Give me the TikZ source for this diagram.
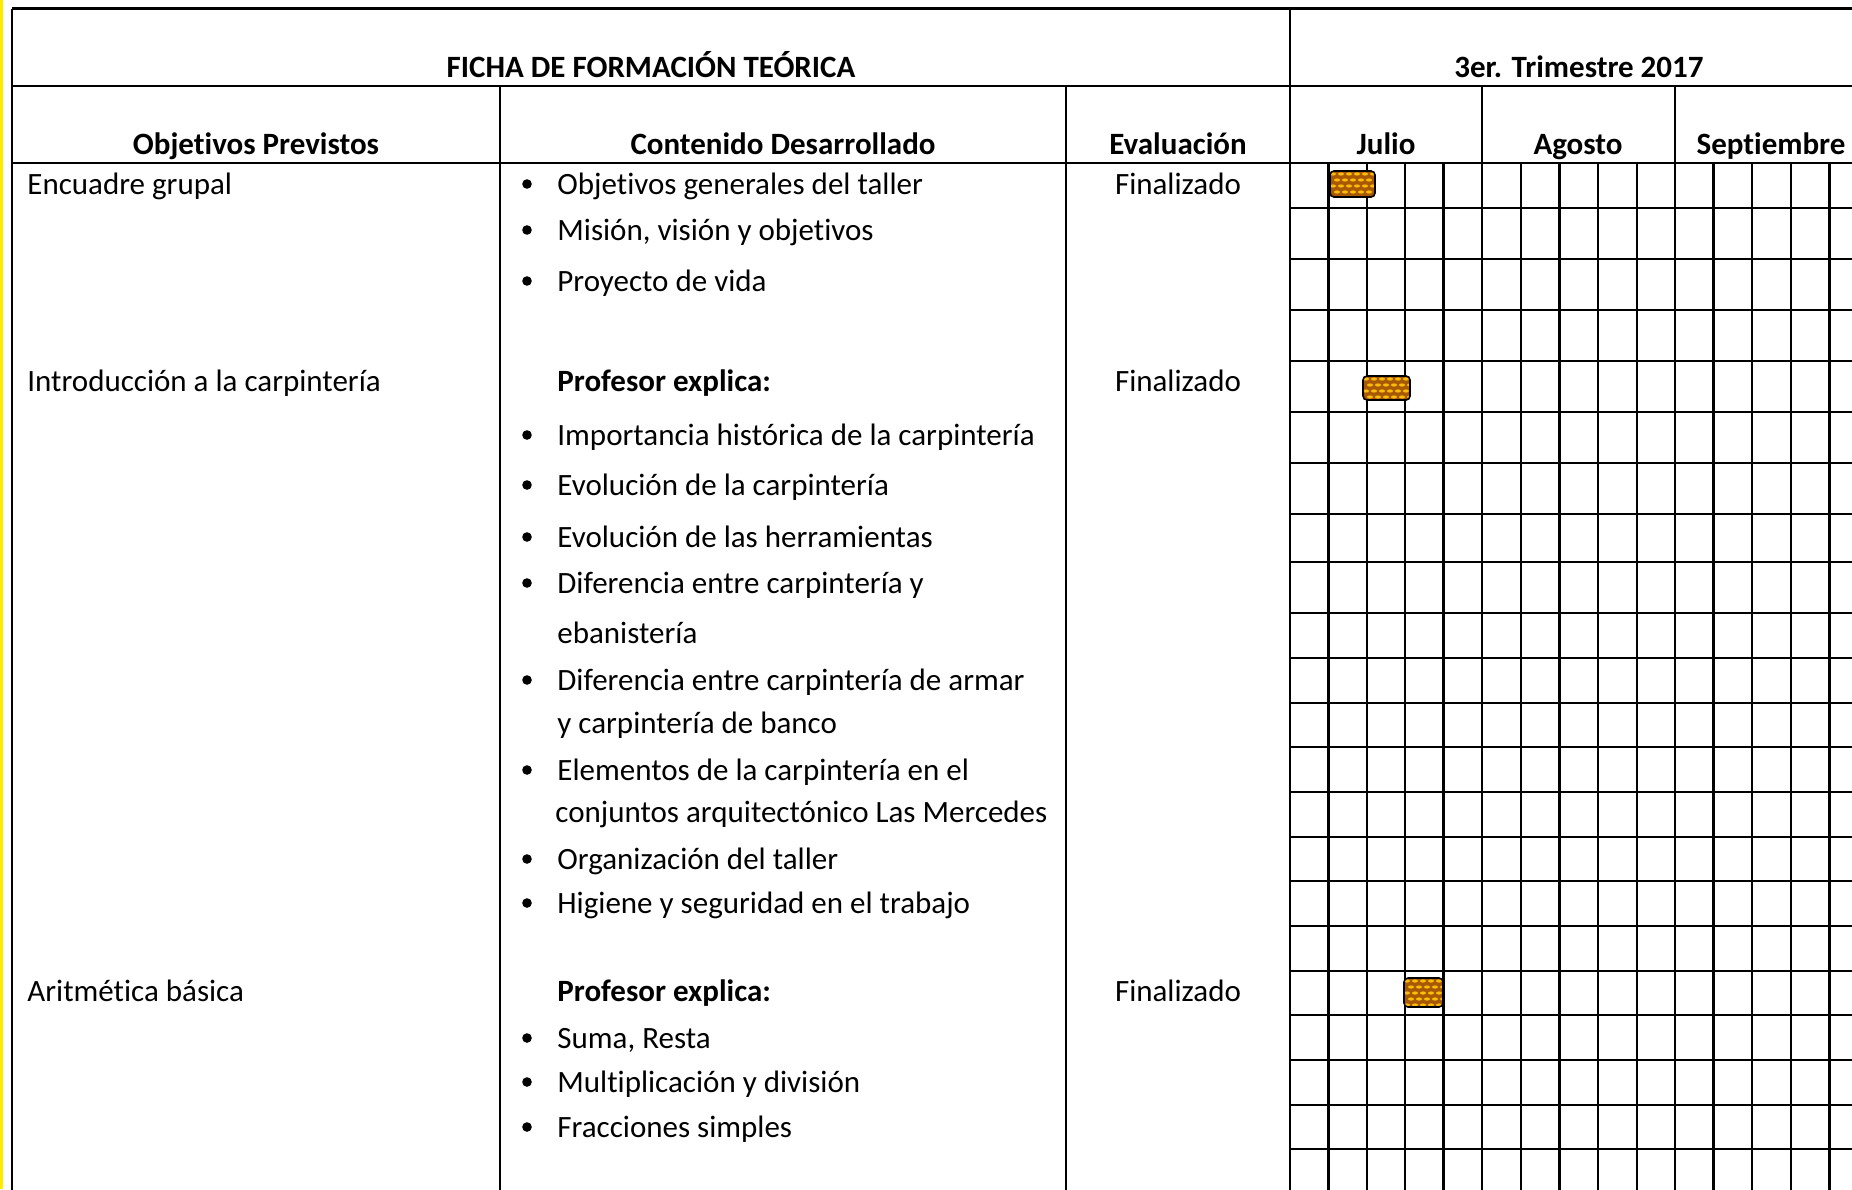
\documentclass[tikz,border=0pt]{standalone}
\usepackage{fontspec}
\setmainfont{Carlito}[Ligatures={NoCommon}]
\definecolor{barbrown}{RGB}{168,88,0}
\definecolor{baryellow}{RGB}{250,190,10}
\definecolor{edgeyellow}{RGB}{255,235,0}
\tikzset{
  grid/.style={line width=1.15pt, black},
  txt/.style={anchor=base west, inner sep=0pt, font=\fontsize{15.5}{18}\selectfont},
  ctr/.style={anchor=base, inner sep=0pt, font=\fontsize{15.5}{18}\selectfont},
  hd/.style={anchor=base, inner sep=0pt, font=\fontsize{15.5}{18}\selectfont\bfseries},
  bhd/.style={anchor=base west, inner sep=0pt, font=\fontsize{15.5}{18}\selectfont\bfseries},
  bul/.style={circle, fill=black, inner sep=0pt, minimum size=4.8pt},
  barnode/.style={draw=black, line width=0.8pt, rounded corners=2pt, inner sep=0pt}
}
\newcommand{\gbar}[5]{%
  \begin{scope}
    \clip[rounded corners=2pt] (#2,#3) rectangle (#4,#5);
    \fill[barbrown] (#2,#3) rectangle (#4,#5);
    \foreach \r in {0,...,5}{
      \foreach \c in {0,...,8}{
        \fill[baryellow] ({#2+3+\c*8+mod(\r,2)*4},{#3+3+\r*6}) ellipse (1.5pt and 0.8pt);
      }
    }
  \end{scope}
  \node[barnode, minimum width={(#4-#2)*0.5pt}, minimum height={(#5-#3)*0.5pt}] (#1) at ({(#2+#4)/2},{(#3+#5)/2}) {};
}
\begin{document}
\begin{tikzpicture}[x=0.5pt, y=-0.5pt]
\useasboundingbox (0,0) rectangle (1852,1189);
\fill[white] (0,0) rectangle (1852,1189);
\begin{scope}
\clip (0,0) rectangle (1852,1189);
% yellow edge
\fill[edgeyellow] (0,0) rectangle (2.5,1189);
% horizontal lines
\draw[grid] (12,8.5) -- (1900,8.5);
\draw[grid] (12,86) -- (1900,86);
\draw[grid] (12,163) -- (1900,163);
\foreach \yy in {208,259,310,361,412,463,514,562,613,658,703,747,792,837,881,926,971,1015,1060,1105,1149,1194}
  \draw[grid] (1290,\yy) -- (1900,\yy);
% vertical lines
\draw[grid] (12,8.5) -- (12,1200);
\draw[grid] (1290,8.5) -- (1290,1200);
\foreach \xx in {500,1066,1482,1675}
  \draw[grid] (\xx,86) -- (\xx,1200);
\foreach \xx in {1328.4,1366.8,1405.2,1443.6,1521,1559.6,1598.2,1636.8,1713.6,1752.2,1790.8,1829.4}
  \draw[grid] (\xx,163) -- (\xx,1200);
\end{scope}
% headings
\node[hd] (ficha) at (651,77) {FICHA DE FORMACIÓN TEÓRICA};
\node[hd] (trim) at (1579,77) {3er. Trimestre 2017};
\node[hd] (hobj) at (256,154) {Objetivos Previstos};
\node[hd] (hcont) at (783,154) {Contenido Desarrollado};
\node[hd] (heval) at (1178,154) {Evaluación};
\node[hd] (hjul) at (1386,154) {Julio};
\node[hd] (hago) at (1578,154) {Agosto};
\node[hd] (hsep) at (1771,154) {Septiembre};
% objectives
\node[txt] (o1) at (27,194) {Encuadre grupal};
\node[txt] (o2) at (27,391) {Introducción a la carpintería};
\node[txt] (o3) at (27,1001) {Aritmética básica};
% evaluation
\node[ctr] (e1) at (1178,194) {Finalizado};
\node[ctr] (e2) at (1178,391) {Finalizado};
\node[ctr] (e3) at (1178,1001) {Finalizado};
% content
\foreach \yy/\tt [count=\i] in {194/Objetivos generales del taller, 240/{Misión, visión y objetivos}, 291/Proyecto de vida, 445/Importancia histórica de la carpintería, 495/Evolución de la carpintería, 547/Evolución de las herramientas, 593/Diferencia entre carpintería y, 690/Diferencia entre carpintería de armar, 780/Elementos de la carpintería en el, 869/Organización del taller, 913/Higiene y seguridad en el trabajo, 1048/{Suma, Resta}, 1092/Multiplicación y división, 1137/Fracciones simples}{
  \node[bul] (b\i) at (527,\yy-10) {};
  \node[txt] (c\i) at (557,\yy) {\tt};
}
\node[txt] (c15) at (557,643) {ebanistería};
\node[txt] (c16) at (557,733) {y carpintería de banco};
\node[txt] (c17) at (555,822) {conjuntos arquitectónico Las Mercedes};
\node[bhd] (p1) at (557,391) {Profesor explica:};
\node[bhd] (p2) at (557,1001) {Profesor explica:};
% gantt bars
\gbar{bar1}{1330}{171}{1375}{197}
\gbar{bar2}{1363}{376}{1410}{400}
\gbar{bar3}{1404}{978}{1443}{1007}
\end{tikzpicture}
\end{document}
